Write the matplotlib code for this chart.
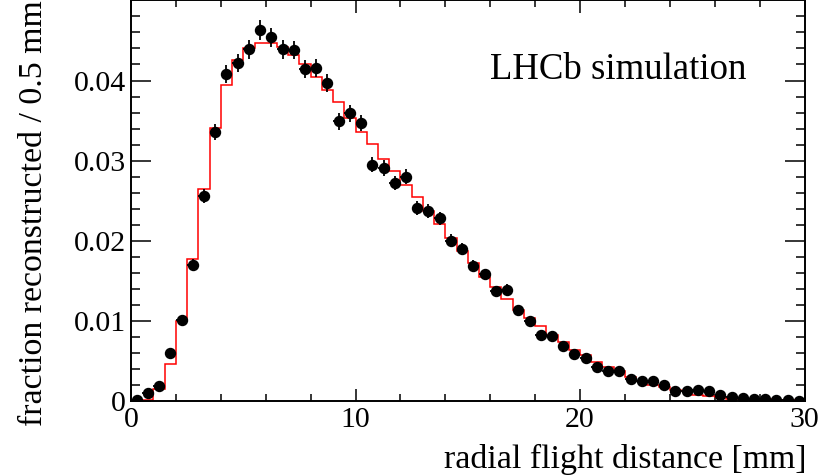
"""LHCb simulation: fraction reconstructed vs radial flight distance."""

import matplotlib

matplotlib.use("Agg")
import matplotlib.pyplot as plt
import numpy as np
from matplotlib.ticker import FuncFormatter, MultipleLocator

plt.rcParams["font.family"] = ["Liberation Serif", "DejaVu Serif"]

# 0.5 mm bins from 0 to 30 mm
bin_edges = np.linspace(0.0, 30.0, 61)

# points with error bars
data_frac = [
    0.0001, 0.00103, 0.00187, 0.00594, 0.01006, 0.0170, 0.02555, 0.0336, 0.0408, 0.0422,
    0.0439, 0.0463, 0.0454, 0.0439, 0.0438, 0.0414, 0.0416, 0.0397, 0.0349, 0.0359,
    0.0347, 0.0295, 0.0291, 0.0272, 0.0280, 0.0241, 0.0237, 0.0228, 0.0200, 0.0190,
    0.0169, 0.0158, 0.0137, 0.0139, 0.0113, 0.0100, 0.0082, 0.0081, 0.0069, 0.0059,
    0.0054, 0.0043, 0.0037, 0.0037, 0.0027, 0.0025, 0.0025, 0.0020, 0.0013, 0.0012,
    0.0014, 0.0013, 0.0007, 0.0005, 0.0004, 0.00025, 0.00025, 0.00016, 0.0001, 0.00005,
]
data_err = [
    0.00006, 0.00018, 0.00024, 0.00043, 0.00056, 0.00073, 0.0009, 0.00103, 0.00113, 0.00115,
    0.00117, 0.0012, 0.00119, 0.00117, 0.00117, 0.00114, 0.00114, 0.00112, 0.00105, 0.00106,
    0.00104, 0.00096, 0.00096, 0.00092, 0.00094, 0.00087, 0.00086, 0.00085, 0.00079, 0.00077,
    0.00073, 0.0007, 0.00066, 0.00066, 0.0006, 0.00056, 0.0005, 0.0005, 0.00047, 0.00043,
    0.00041, 0.00037, 0.00034, 0.00034, 0.00029, 0.00028, 0.00028, 0.00025, 0.0002, 0.00019,
    0.00021, 0.0002, 0.00015, 0.00013, 0.00011, 0.00009, 0.00009, 0.00007, 0.00006, 0.00004,
]

# red reference histogram
mc_frac = [
    0.00012, 0.00012, 0.0015, 0.0046, 0.0100, 0.01766, 0.0264, 0.0341, 0.0394, 0.0425,
    0.0440, 0.0447, 0.0447, 0.0442, 0.0432, 0.0421, 0.0405, 0.0388, 0.0373, 0.0353,
    0.0336, 0.0321, 0.0302, 0.0287, 0.0270, 0.0255, 0.0237, 0.0221, 0.0204, 0.0187,
    0.0172, 0.0155, 0.0142, 0.0127, 0.0114, 0.0104, 0.0093, 0.0082, 0.0074, 0.0064,
    0.0057, 0.0049, 0.0043, 0.0037, 0.0030, 0.0025, 0.0020, 0.0017, 0.0014, 0.0012,
    0.0008, 0.0006, 0.0005, 0.0003, 0.0003, 0.0002, 0.0002, 0.0001, 0.0001, 0.0001,
]

bin_centres = 0.5 * (bin_edges[:-1] + bin_edges[1:])
bin_half = 0.5 * np.diff(bin_edges)

fig = plt.figure(figsize=(8.2, 4.76), dpi=100)
ax = fig.add_axes([0.1598, 0.1576, 0.8213, 0.8414])

ax.stairs(mc_frac, bin_edges, color="#ff0000", lw=1.1, zorder=2)
ax.errorbar(
    bin_centres, data_frac, yerr=data_err, xerr=bin_half,
    fmt="o", color="black", ms=7.2, elinewidth=1.3, capsize=0, zorder=3,
)

ax.set_xlim(0, 30)
ax.set_ylim(0, 0.04999)

ax.xaxis.set_major_locator(MultipleLocator(10))
ax.xaxis.set_minor_locator(MultipleLocator(2))
ax.yaxis.set_major_locator(MultipleLocator(0.01))
ax.yaxis.set_minor_locator(MultipleLocator(0.002))
ax.yaxis.set_major_formatter(FuncFormatter(lambda v, _: f"{v:g}"))

ax.tick_params(axis="both", which="both", direction="in", top=True, right=True,
               width=1.1, labelsize=21.5, color="black")
ax.tick_params(axis="y", which="major", length=14.4, pad=3.6)
ax.tick_params(axis="y", which="minor", length=6.8)
ax.tick_params(axis="x", which="major", length=9, pad=4)
ax.tick_params(axis="x", which="minor", length=5)
for s in ax.spines.values():
    s.set_linewidth(1.4)

ax.set_xlabel("radial flight distance [mm]", fontsize=24.4, loc="right")
ax.xaxis.label.set_va("baseline")
ax.xaxis.set_label_coords(1.003, -0.167)
ax.set_ylabel("fraction reconstructed / 0.5 mm", fontsize=24.4, loc="top")
ax.yaxis.label.set_va("baseline")
ax.yaxis.set_label_coords(-0.132, 1.0)

ax.text(0.533, 0.804, "LHCb simulation", transform=ax.transAxes,
        ha="left", va="baseline", fontsize=26.5)

fig.savefig("out.png", dpi=100)
